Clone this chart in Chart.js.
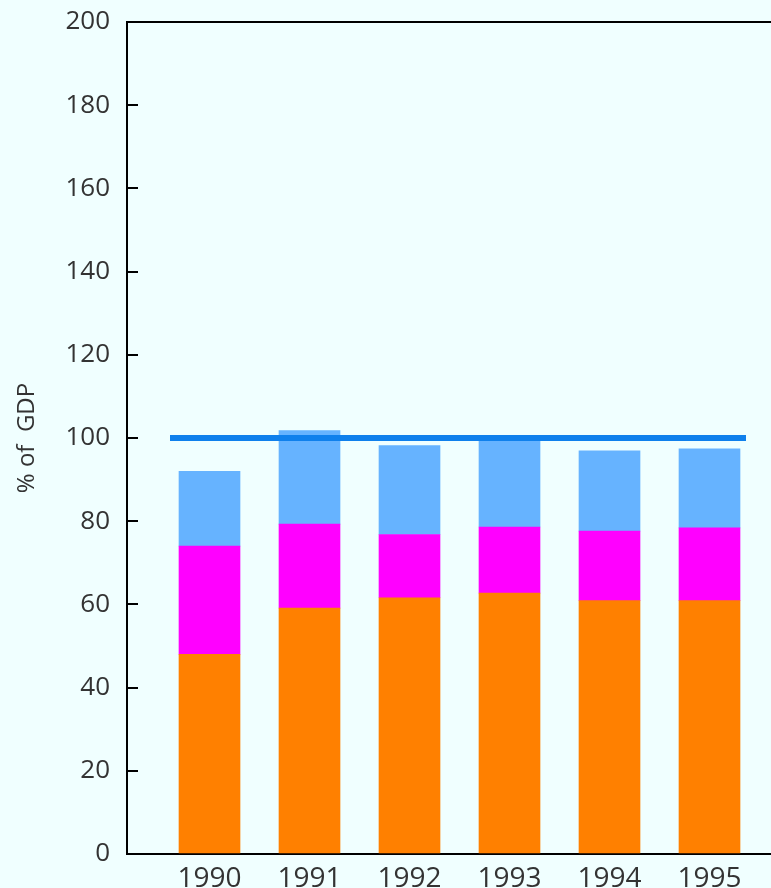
<!DOCTYPE html>
<html>
<head>
<meta charset="utf-8">
<script src="https://cdn.jsdelivr.net/npm/chart.js@4/dist/chart.umd.min.js"></script>
<style>
  html, body { margin: 0; padding: 0; background: #f0ffff; overflow: hidden; }
  #wrap { width: 771px; height: 888px; position: relative; }
</style>
</head>
<body>
<div id="wrap"><canvas id="chart"></canvas></div>
<script>
// Years on the category axis
const years = ['1990', '1991', '1992', '1993', '1994', '1995'];

// Stacked components, % of GDP
const componentA = [48.0, 59.1, 61.6, 62.7, 60.9, 60.9];   // orange (bottom)
const componentB = [26.0, 20.2, 15.2, 15.9, 16.7, 17.5];   // magenta (middle)
const componentC = [18.0, 22.5, 21.4, 21.4, 19.3, 19.0];   // light blue (top)

// Reference level drawn as a horizontal line
const referenceLevel = 100;
const referenceSpan = [-0.395, 5.365];

// Value-axis ticks
const yTicks = [0, 20, 40, 60, 80, 100, 120, 140, 160, 180, 200];

const toPoints = arr => arr.map((v, i) => ({ x: i, y: v }));

const bg = {
  id: 'bg',
  beforeDraw(chart) {
    const { ctx, width, height } = chart;
    ctx.save();
    ctx.fillStyle = '#f0ffff';
    ctx.fillRect(0, 0, width, height);
    ctx.restore();
  }
};

const font = "'Open Sans', 'DejaVu Sans', sans-serif";

new Chart(document.getElementById('chart'), {
  type: 'bar',
  data: {
    datasets: [
      {
        label: 'Reference',
        type: 'line',
        data: referenceSpan.map(x => ({ x, y: referenceLevel })),
        borderColor: '#0f80ec',
        borderWidth: 6,
        borderCapStyle: 'butt',
        pointRadius: 0,
        fill: false,
        stack: 'ref',
        order: 0
      },
      { label: 'A', data: toPoints(componentA), backgroundColor: '#ff8000', stack: 'main', order: 1, barThickness: 61 },
      { label: 'B', data: toPoints(componentB), backgroundColor: '#ff00ff', stack: 'main', order: 1, barThickness: 61 },
      { label: 'C', data: toPoints(componentC), backgroundColor: '#66b3ff', stack: 'main', order: 1, barThickness: 61 }
    ]
  },
  options: {
    responsive: true,
    maintainAspectRatio: false,
    animation: false,
    layout: { padding: { top: 22, right: 0, bottom: 0, left: 0 } },
    plugins: {
      legend: { display: false },
      tooltip: { enabled: false }
    },
    scales: {
      x: {
        type: 'linear',
        offset: false,
        min: -0.825,
        max: 5.615,
        grid: { display: false, drawTicks: false },
        border: { display: true, color: '#000', width: 2 },
        ticks: {
          stepSize: 1,
          includeBounds: false,
          autoSkip: false,
          maxRotation: 0,
          padding: 8,
          color: '#333',
          font: { family: font, size: 28 },
          callback: v => years[v] ?? ''
        },
        afterFit: s => { s.height = 34; s.paddingLeft = 0; s.paddingRight = 0; }
      },
      y: {
        stacked: true,
        min: 0,
        max: 200,
        afterBuildTicks: s => { s.ticks = yTicks.map(v => ({ value: v })); },
        grid: {
          display: true,
          drawOnChartArea: true,
          drawTicks: true,
          tickLength: -11,
          tickWidth: 2,
          tickColor: '#000',
          lineWidth: 2,
          color: c => (c.tick && c.tick.value === 200) ? '#000' : 'rgba(0,0,0,0)'
        },
        border: { display: true, color: '#000', width: 2 },
        ticks: {
          padding: 28,
          color: '#333',
          font: { family: font, size: 26 }
        },
        title: {
          display: true,
          text: '% of  GDP',
          color: '#333',
          font: { family: font, size: 24 },
          padding: { top: 13, bottom: 0 }
        },
        afterFit: s => { s.width = 127; s.paddingTop = 0; s.paddingBottom = 0; }
      }
    }
  },
  plugins: [bg]
});
</script>
</body>
</html>
